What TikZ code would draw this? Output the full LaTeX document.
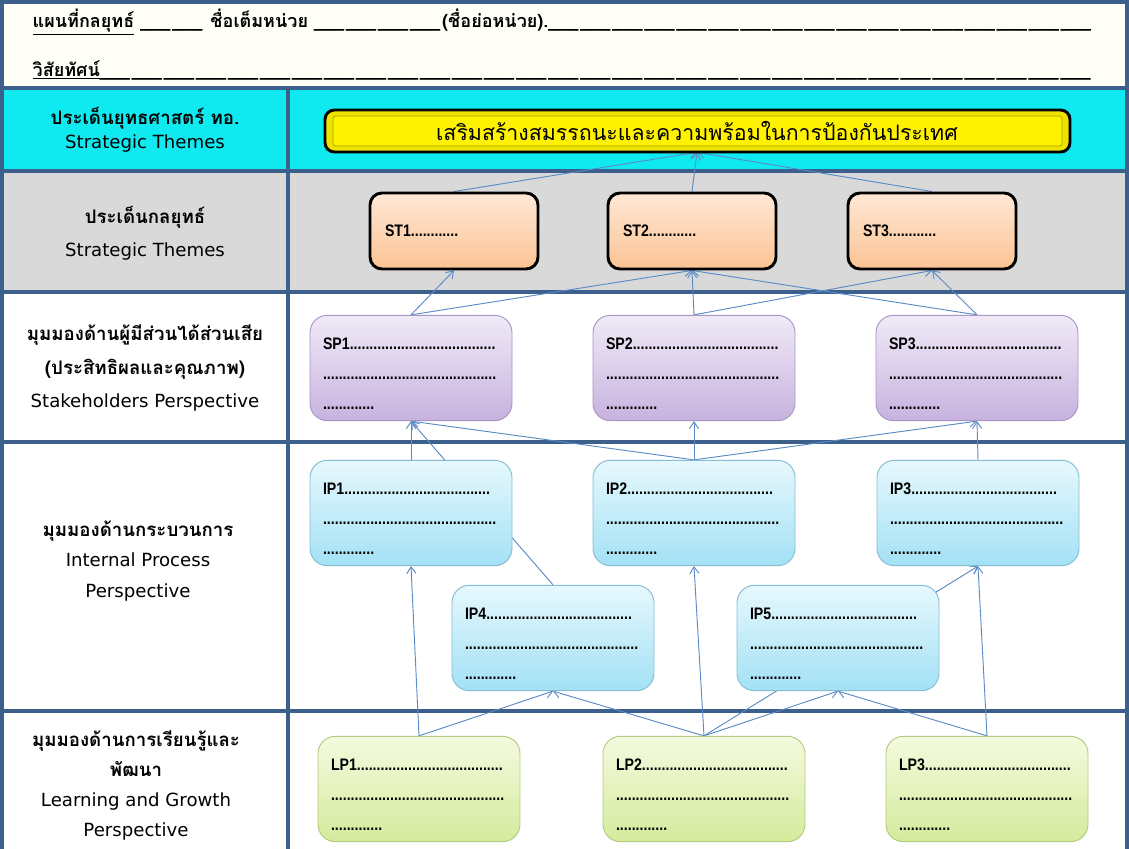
\documentclass[tikz,border=0pt]{standalone}
\usepackage{fontspec}
\setmainfont{DejaVu Sans}
\newfontfamily\thaifont[Script=Thai]{Loma}
\newfontfamily\boxfont[FakeStretch=0.85]{Liberation Sans}
\usetikzlibrary{arrows.meta}
\pgfdeclarelayer{rows}
\pgfdeclarelayer{links}
\pgfsetlayers{rows,links,main}
\definecolor{barblue}{HTML}{3C5F8C}
\definecolor{linkblue}{HTML}{5B8BC7}
\definecolor{cyanrow}{HTML}{0FEAF0}
\definecolor{grayrow}{HTML}{D9D9D9}
\definecolor{headbg}{HTML}{FFFFF8}
\definecolor{stTop}{HTML}{FFE8D6}
\definecolor{stBot}{HTML}{FBC394}
\definecolor{spTop}{HTML}{F0EAF7}
\definecolor{spBot}{HTML}{C7B2DF}
\definecolor{spLine}{HTML}{A896C6}
\definecolor{ipTop}{HTML}{E6F8FD}
\definecolor{ipBot}{HTML}{A3E1F5}
\definecolor{ipLine}{HTML}{86BDD3}
\definecolor{lpTop}{HTML}{F4FADF}
\definecolor{lpBot}{HTML}{D5EA9C}
\definecolor{lpLine}{HTML}{B3CB7E}
\definecolor{bevelline}{HTML}{A8A000}
\newcommand\blank[1]{\foreach \k in {1,...,#1}{\_\_\_\kern1.5pt}}
\newcommand\dotsrow[1]{\foreach \k in {1,...,#1}{.}}
% three lines of a perspective box, the first pushed down a little
\newcommand\boxlines[1]{\rule{0pt}{16.5pt}#1\dotsrow{37}\\\dotsrow{44}\\\dotsrow{13}}
\tikzset{
  bar/.style={draw=barblue, line width=3pt},
  link/.style={draw=linkblue, line width=0.7pt, -{Straight Barb[length=5pt,width=7pt]}},
  rowlabel/.style={align=center},
  thai/.style={font=\thaifont\bfseries\fontsize{13.5}{16}\selectfont},
  stbox/.style={draw=black, line width=2.2pt, rounded corners=9pt,
    top color=stTop, bottom color=stBot, minimum width=126pt, minimum height=57pt,
    inner xsep=0pt, text width=103.5pt, align=left,
    font=\boxfont\bfseries\fontsize{12.5}{22}\selectfont},
  perbox/.style={rounded corners=13pt, line width=0.7pt, minimum width=151.5pt,
    minimum height=79pt, text width=132pt, align=left, inner sep=0pt,
    font=\boxfont\bfseries\fontsize{12.5}{22.5}\selectfont},
  spbox/.style={perbox, draw=spLine, top color=spTop, bottom color=spBot},
  ipbox/.style={perbox, draw=ipLine, top color=ipTop, bottom color=ipBot},
  lpbox/.style={perbox, draw=lpLine, top color=lpTop, bottom color=lpBot},
}
\newcommand\thailine[1]{{\thaifont\bfseries\fontsize{14}{14}\selectfont #1}}
\begin{document}
\begin{tikzpicture}[x=0.75pt, y=-0.75pt]
\useasboundingbox (0,0) rectangle (1129,849);
% rows of the table
\begin{pgfonlayer}{rows}
  \fill[headbg] (0,0) rectangle (1129,88);
  \fill[cyanrow] (0,88) rectangle (1129,171);
  \fill[grayrow] (0,171) rectangle (1129,292);
  \fill[white] (0,292) rectangle (1129,849);
  \foreach \y in {88,171,292,442,711}
    \draw[bar] (0,\y) -- (1129,\y);
  \draw[bar] (288,88) -- (288,849);
  \draw[bar] (2,851) -- (2,2) -- (1127,2) -- (1127,851);
\end{pgfonlayer}
% header
\node[anchor=west, thai] (head1) at (28,22)
  {\underline{แผนที่กลยุทธ์} \blank{2} ชื่อเต็มหน่วย \blank{4}(ชื่อย่อหน่วย).\blank{17}};
\node[anchor=west, thai] (head2) at (28,70)
  {\underline{วิสัยทัศน์}\blank{31}};
% left column
\node[rowlabel, font=\fontsize{13.6}{18}\selectfont] (lbl1) at (145,130)
  {\thailine{ประเด็นยุทธศาสตร์ ทอ.}\\Strategic Themes};
\node[rowlabel, font=\fontsize{13.6}{25}\selectfont] (lbl2) at (145,233)
  {\thailine{ประเด็นกลยุทธ์}\\Strategic Themes};
\node[rowlabel, font=\fontsize{13.6}{25}\selectfont] (lbl3) at (145,368)
  {\thailine{มุมมองด้านผู้มีส่วนได้ส่วนเสีย}\\\thailine{(ประสิทธิผลและคุณภาพ)}\\Stakeholders Perspective};
\node[rowlabel, font=\fontsize{13.6}{23}\selectfont] (lbl4) at (138,561)
  {\thailine{มุมมองด้านกระบวนการ}\\Internal Process\\Perspective};
\node[rowlabel, font=\fontsize{13.6}{22.5}\selectfont] (lbl5) at (136,785)
  {\thailine{มุมมองด้านการเรียนรู้และ}\\\thailine{พัฒนา}\\Learning and Growth\\Perspective};
% banner
\draw[black, line width=2.2pt, rounded corners=7pt, fill=yellow!85!olive]
  (325,110) rectangle (1070,152);
\draw[bevelline, line width=0.5pt, fill=yellow, rounded corners=2pt]
  (333,116) rectangle (1062,146);
\node[font=\thaifont\fontsize{16}{18}\selectfont, minimum width=558pt, minimum height=31.5pt]
  (banner) at (697,131) {เสริมสร้างสมรรถนะและความพร้อมในการป้องกันประเทศ};
% strategic themes
\node[stbox] (st1) at (454,231) {ST1\dotsrow{12}};
\node[stbox] (st2) at (692,231) {ST2\dotsrow{12}};
\node[stbox] (st3) at (932,231) {ST3\dotsrow{12}};
% perspectives
\foreach \n/\x in {1/411,2/694,3/977}
  \node[spbox] (sp\n) at (\x,368) {\boxlines{SP\n}};
\foreach \n/\x/\y in {1/411/513,2/694/513,3/978/513,4/553/638,5/838/638}
  \node[ipbox] (ip\n) at (\x,\y) {\boxlines{IP\n}};
\foreach \n/\x in {1/419,2/704,3/987}
  \node[lpbox] (lp\n) at (\x,789) {\boxlines{LP\n}};
% connectors
\begin{pgfonlayer}{links}
  \foreach \a/\b in {st1/banner,st2/banner,st3/banner,
      sp1/st1,sp1/st2,sp2/st2,sp2/st3,sp3/st2,sp3/st3,
      ip1/sp1,ip4/sp1,ip2/sp1,ip2/sp2,ip2/sp3,ip3/sp3,
      lp1/ip1,lp1/ip4,lp2/ip4,lp2/ip2,lp2/ip5,lp2/ip3,lp3/ip5,lp3/ip3}
    \draw[link] (\a.north) -- (\b.south);
\end{pgfonlayer}
\end{tikzpicture}
\end{document}
